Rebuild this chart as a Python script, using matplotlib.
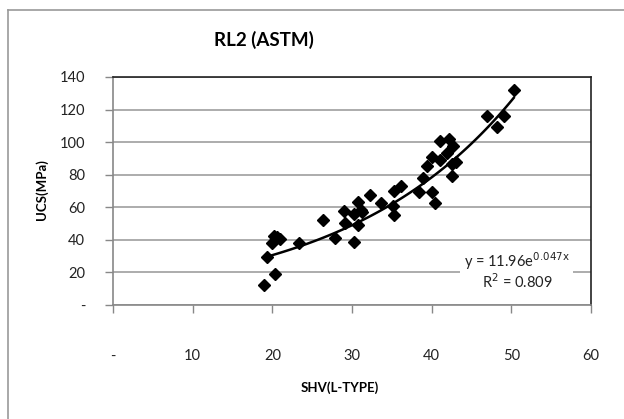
import numpy as np
import matplotlib
matplotlib.use("Agg")
import matplotlib.pyplot as plt
from matplotlib.lines import Line2D
from matplotlib.patches import Rectangle

plt.rcParams['font.family'] = ['Lato', 'DejaVu Sans']

# data
shv = [18.9, 19.3, 20.3, 20.0, 20.2, 21.0, 20.6, 23.3, 26.3, 27.9, 29.0, 29.1,
       30.2, 30.2, 30.7, 30.7, 31.1, 31.2, 32.2, 33.7, 35.2, 35.3, 35.3, 36.2,
       38.4, 38.9, 39.4, 40.0, 40.0, 40.4, 41.1, 41.1, 42.2, 41.9, 42.7, 42.5,
       43.1, 42.6, 46.9, 48.2, 49.1, 50.3]
ucs = [12.3, 29.7, 18.9, 38.3, 42.4, 40.4, 41.5, 37.9, 52.3, 41.0, 57.8, 50.2,
       38.9, 56.0, 63.1, 49.2, 58.4, 57.4, 67.6, 62.9, 60.9, 55.3, 70.3, 72.8,
       69.3, 77.9, 85.1, 90.6, 69.3, 62.9, 101.0, 89.2, 102.0, 93.3, 97.4, 79.3,
       88.1, 86.7, 115.8, 109.0, 116.2, 131.8]
fit_a = 11.96
fit_b = 0.047
x_ticks = [0, 10, 20, 30, 40, 50, 60]
y_ticks = [0, 20, 40, 60, 80, 100, 120, 140]

fig = plt.figure(figsize=(6.24, 4.19), dpi=100)
ax = fig.add_axes([113 / 624, 1 - 305 / 419, 478 / 624, 228 / 419])

xf = np.linspace(min(shv), max(shv), 100)
ax.plot(xf, fit_a * np.exp(fit_b * xf), color='black', lw=1.8, zorder=3)
ax.plot(shv, ucs, 'D', color='black', ms=6.5, zorder=4)

ax.set_xlim(0, 60)
ax.set_ylim(0, 140)
ax.set_xticks(x_ticks)
ax.set_yticks(y_ticks)
ax.set_xticklabels(['-' if v == 0 else str(v) for v in x_ticks])
ax.set_yticklabels(['-' if v == 0 else str(v) for v in y_ticks])
ax.tick_params(axis='x', length=6, width=1, color='#888888', pad=26,
               labelsize=10.5, labelcolor='#222222')
ax.tick_params(axis='y', length=6, width=1, color='#888888', pad=14,
               labelsize=10.5, labelcolor='#222222')
ax.grid(axis='y', color='#a6a6a6', lw=1.3)
ax.set_axisbelow(True)
ax.spines['left'].set_color('#888888')
ax.spines['bottom'].set_color('#888888')
ax.spines['top'].set_color('#222222')
ax.spines['right'].set_color('#222222')
for s in ax.spines.values():
    s.set_linewidth(1.2)

# trendline label box
ax.add_patch(Rectangle((43.6, 10), 14.1, 25, facecolor='white', edgecolor='none', zorder=2))
ax.text(50.7, 27.0, 'y = 11.96e$^{\\mathrm{0.047x}}$', ha='center', va='center',
        fontsize=10.5, color='#222222', zorder=5)
ax.text(50.7, 14.1, 'R$^{\\mathrm{2}}$ = 0.809', ha='center', va='center',
        fontsize=10.5, color='#222222', zorder=5)

fig.text(264 / 624, 1 - 40 / 419, 'RL2 (ASTM)', ha='center', va='center',
         fontsize=13.5, fontweight='bold')
fig.text(42 / 624, 1 - 190 / 419, 'UCS(MPa)', ha='center', va='center',
         rotation=90, fontsize=9.5, fontweight='bold')
fig.text(340 / 624, 1 - 388 / 419, 'SHV(L-TYPE)', ha='center', va='center',
         fontsize=9.5, fontweight='bold')

# chart frame
fig.add_artist(Line2D([8 / 624, 8 / 624], [0, 1 - 10 / 419], color='#999999', lw=1.2,
                      transform=fig.transFigure))
fig.add_artist(Line2D([8 / 624, 1], [1 - 10 / 419, 1 - 10 / 419], color='#999999', lw=1.2,
                      transform=fig.transFigure))

fig.savefig('out.png', dpi=100)
